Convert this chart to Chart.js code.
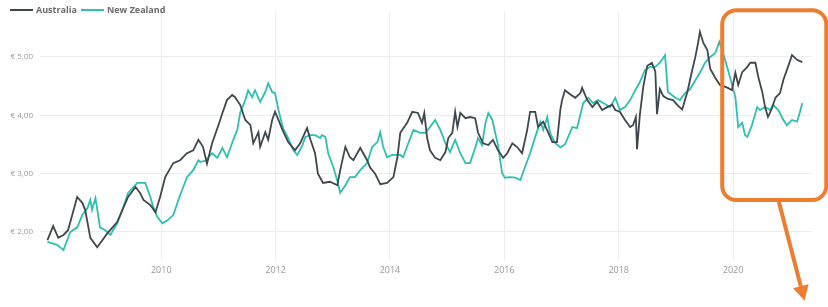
<!DOCTYPE html>
<html>
<head>
<meta charset="utf-8">
<script src="https://cdn.jsdelivr.net/npm/chart.js@4"></script>
<style>
  body { margin: 0; background: #fff; font-family: "Open Sans", sans-serif; }
  #wrap { position: relative; width: 828px; height: 307px; }
  #legend { position: absolute; left: 10px; top: 3px; display: flex; align-items: center; font-size: 9px; font-weight: 700; color: #6b6b6b; }
  #legend .item { display: flex; align-items: center; margin-right: 4px; }
  #legend .swatch { width: 23px; height: 2px; margin-right: 3px; }
</style>
</head>
<body>
<div id="wrap">
  <canvas id="chart" width="828" height="307"></canvas>
  <div id="legend"></div>
</div>
<script>
// Australia
const auYears = [2008.01, 2008.11, 2008.20, 2008.29, 2008.37, 2008.53, 2008.62, 2008.67, 2008.76, 2008.88, 2008.97,
  2009.06, 2009.23, 2009.42, 2009.55, 2009.63, 2009.69, 2009.81, 2009.90, 2009.98,
  2010.07, 2010.21, 2010.33, 2010.45, 2010.56, 2010.65, 2010.73, 2010.80, 2010.89,
  2011.00, 2011.07, 2011.15, 2011.24, 2011.29, 2011.38, 2011.47, 2011.56, 2011.61, 2011.70, 2011.73, 2011.82, 2011.87, 2011.94, 2011.99,
  2012.05, 2012.12, 2012.22, 2012.34, 2012.43, 2012.48, 2012.55, 2012.61, 2012.69, 2012.74, 2012.83, 2012.95,
  2013.08, 2013.13, 2013.22, 2013.30, 2013.36, 2013.48, 2013.60, 2013.65, 2013.74, 2013.83, 2013.95,
  2014.06, 2014.13, 2014.18, 2014.30, 2014.39, 2014.49, 2014.56, 2014.60, 2014.65, 2014.70, 2014.79, 2014.88, 2014.97,
  2015.02, 2015.09, 2015.14, 2015.18, 2015.23, 2015.32, 2015.40, 2015.49, 2015.54, 2015.63, 2015.72, 2015.80, 2015.89, 2015.98,
  2016.05, 2016.14, 2016.22, 2016.31, 2016.40, 2016.45, 2016.54, 2016.59, 2016.68, 2016.77, 2016.84, 2016.92, 2016.98,
  2017.01, 2017.06, 2017.15, 2017.24, 2017.33, 2017.36, 2017.45, 2017.54, 2017.62, 2017.71, 2017.80, 2017.89, 2017.94,
  2018.02, 2018.11, 2018.20, 2018.25, 2018.30, 2018.32, 2018.37, 2018.43, 2018.50, 2018.58, 2018.64, 2018.67, 2018.72, 2018.78, 2018.86, 2018.95,
  2019.04, 2019.11, 2019.20, 2019.28, 2019.34, 2019.39, 2019.42, 2019.48, 2019.55, 2019.60, 2019.69, 2019.77, 2019.91, 2019.98,
  2020.04, 2020.09, 2020.16, 2020.25, 2020.30, 2020.39, 2020.44, 2020.51, 2020.56, 2020.61, 2020.68, 2020.74, 2020.82, 2020.88, 2020.96,
  2021.03, 2021.12, 2021.21];
const auValues = [1.86, 2.10, 1.90, 1.95, 2.03, 2.60, 2.50, 2.38, 1.90, 1.74, 1.86,
  1.98, 2.17, 2.60, 2.77, 2.67, 2.55, 2.46, 2.34, 2.60,
  2.94, 3.18, 3.23, 3.35, 3.40, 3.58, 3.46, 3.17, 3.52,
  3.83, 4.04, 4.26, 4.35, 4.31, 4.18, 3.92, 3.83, 3.52, 3.71, 3.46, 3.71, 3.58, 3.92, 4.06,
  3.92, 3.75, 3.54, 3.40, 3.52, 3.63, 3.78, 3.58, 3.35, 3.00, 2.84, 2.86,
  2.80, 3.06, 3.46, 3.28, 3.23, 3.44, 3.23, 3.11, 3.00, 2.82, 2.84,
  2.94, 3.28, 3.70, 3.87, 4.06, 4.04, 3.87, 4.04, 3.61, 3.40, 3.27, 3.23, 3.37,
  3.61, 3.70, 4.06, 3.80, 4.04, 3.95, 3.97, 3.95, 3.70, 3.52, 3.49, 3.58, 3.40, 3.27,
  3.35, 3.52, 3.46, 3.35, 3.75, 4.06, 4.06, 3.80, 3.89, 3.70, 3.54, 3.54, 4.10,
  4.26, 4.43, 4.36, 4.30, 4.38, 4.47, 4.26, 4.14, 4.23, 4.09, 4.14, 4.18, 4.09,
  4.06, 3.92, 3.80, 3.83, 3.97, 3.42, 4.01, 4.49, 4.85, 4.90, 4.75, 4.02, 4.45, 4.33, 4.28, 4.26,
  4.16, 4.10, 4.40, 4.75, 5.00, 5.25, 5.43, 5.24, 5.12, 4.80, 4.64, 4.52, 4.47, 4.43,
  4.73, 4.52, 4.74, 4.83, 4.90, 4.90, 4.66, 4.40, 4.14, 3.97, 4.12, 4.30, 4.38, 4.61, 4.83,
  5.03, 4.95, 4.91];

// New Zealand
const nzYears = [2008.01, 2008.18, 2008.29, 2008.41, 2008.53, 2008.62, 2008.71, 2008.76, 2008.79, 2008.85, 2008.93,
  2009.02, 2009.11, 2009.23, 2009.32, 2009.42, 2009.58, 2009.72, 2009.81, 2009.86, 2009.93,
  2010.02, 2010.11, 2010.21, 2010.33, 2010.45, 2010.56, 2010.65, 2010.68, 2010.77, 2010.89, 2010.98,
  2011.07, 2011.15, 2011.26, 2011.33, 2011.38, 2011.47, 2011.52, 2011.59, 2011.64, 2011.73, 2011.82, 2011.87, 2011.94, 2011.99,
  2012.05, 2012.13, 2012.22, 2012.31, 2012.38, 2012.47, 2012.52, 2012.61, 2012.69, 2012.78, 2012.81, 2012.87, 2012.92,
  2013.01, 2013.09, 2013.13, 2013.22, 2013.30, 2013.39, 2013.48, 2013.60, 2013.69, 2013.78, 2013.83, 2013.88, 2013.95,
  2014.04, 2014.18, 2014.23, 2014.32, 2014.41, 2014.53, 2014.62, 2014.70, 2014.79, 2014.88, 2014.97,
  2015.05, 2015.14, 2015.23, 2015.32, 2015.40, 2015.49, 2015.54, 2015.61, 2015.67, 2015.72, 2015.79, 2015.84, 2015.89, 2015.96,
  2016.01, 2016.10, 2016.19, 2016.28, 2016.36, 2016.45, 2016.54, 2016.63, 2016.68, 2016.75, 2016.80, 2016.89, 2016.98,
  2017.06, 2017.19, 2017.27, 2017.38, 2017.47, 2017.55, 2017.64, 2017.73, 2017.85, 2017.94,
  2018.02, 2018.11, 2018.20, 2018.29, 2018.37, 2018.46, 2018.55, 2018.64, 2018.72, 2018.81, 2018.86, 2018.99,
  2019.07, 2019.16, 2019.25, 2019.34, 2019.42, 2019.51, 2019.60, 2019.69, 2019.76, 2019.86, 2019.95,
  2020.04, 2020.09, 2020.16, 2020.21, 2020.25, 2020.33, 2020.42, 2020.47, 2020.56, 2020.65, 2020.70, 2020.79, 2020.88, 2020.94,
  2021.03, 2021.12, 2021.17, 2021.21];
const nzValues = [1.83, 1.78, 1.69, 2.00, 2.08, 2.29, 2.41, 2.55, 2.38, 2.58, 2.08,
  2.03, 1.95, 2.15, 2.38, 2.67, 2.84, 2.84, 2.60, 2.43, 2.26,
  2.15, 2.20, 2.29, 2.63, 2.94, 3.06, 3.23, 3.20, 3.22, 3.35, 3.27,
  3.44, 3.28, 3.58, 3.75, 4.04, 4.26, 4.43, 4.31, 4.43, 4.23, 4.40, 4.55, 4.40, 4.38,
  4.09, 3.78, 3.61, 3.40, 3.32, 3.49, 3.63, 3.66, 3.66, 3.61, 3.66, 3.63, 3.35,
  3.11, 2.84, 2.67, 2.80, 2.94, 2.94, 3.06, 3.18, 3.46, 3.54, 3.71, 3.46, 3.28,
  3.32, 3.32, 3.28, 3.52, 3.75, 3.70, 3.70, 3.80, 3.92, 3.75, 3.52,
  3.37, 3.58, 3.35, 3.18, 3.18, 3.44, 3.61, 3.49, 3.87, 4.04, 3.92, 3.70, 3.49, 3.01,
  2.93, 2.94, 2.93, 2.89, 3.11, 3.35, 3.63, 3.89, 3.75, 3.97, 3.70, 3.52, 3.45,
  3.50, 3.80, 3.78, 4.21, 4.30, 4.21, 4.26, 4.21, 4.14, 4.30,
  4.09, 4.14, 4.26, 4.43, 4.57, 4.78, 4.83, 4.83, 4.90, 5.03, 4.40, 4.30,
  4.26, 4.38, 4.45, 4.60, 4.73, 4.90, 5.00, 5.07, 5.26, 4.95, 4.64,
  4.31, 3.80, 3.87, 3.66, 3.63, 3.83, 4.14, 4.09, 4.14, 4.09, 4.18, 4.09, 3.92, 3.83,
  3.92, 3.89, 4.06, 4.21];

const seriesNames = ['Australia', 'New Zealand'];
const seriesColors = ['#3f474c', '#2ebfae'];
const yearTicks = [2010, 2012, 2014, 2016, 2018, 2020];
const euroTicks = [2, 3, 4, 5];

// orange highlight box round the last months, with its arrow (in data units)
const highlightBox = { x0: 2019.81, x1: 2021.63, y0: 5.80, y1: 2.55 };
const highlightArrow = { x0: 2020.80, y0: 2.52, x1: 2021.25, y1: 0.82 };

const toPoints = (xs, ys) => xs.map((x, i) => ({ x, y: ys[i] }));

document.getElementById('legend').innerHTML = seriesNames.map((n, i) =>
  `<div class="item"><span class="swatch" style="background:${seriesColors[i]}"></span>${n}</div>`).join('');

const highlightPlugin = {
  id: 'highlight',
  afterDraw(chart) {
    const { ctx, scales: { x, y } } = chart;
    const bx0 = x.getPixelForValue(highlightBox.x0), bx1 = x.getPixelForValue(highlightBox.x1);
    const by0 = y.getPixelForValue(highlightBox.y0), by1 = y.getPixelForValue(highlightBox.y1);
    ctx.save();
    ctx.strokeStyle = '#ed7d31';
    ctx.fillStyle = '#ed7d31';
    ctx.lineWidth = 4;
    ctx.beginPath();
    ctx.roundRect(bx0, by0, bx1 - bx0, by1 - by0, 14);
    ctx.stroke();

    const ax0 = x.getPixelForValue(highlightArrow.x0), ay0 = y.getPixelForValue(highlightArrow.y0);
    const ax1 = x.getPixelForValue(highlightArrow.x1), ay1 = y.getPixelForValue(highlightArrow.y1);
    const ang = Math.atan2(ay1 - ay0, ax1 - ax0);
    const head = 15, half = 8;
    ctx.beginPath();
    ctx.moveTo(ax0, ay0);
    ctx.lineTo(ax1 - Math.cos(ang) * head * 0.8, ay1 - Math.sin(ang) * head * 0.8);
    ctx.stroke();
    ctx.beginPath();
    ctx.moveTo(ax1, ay1);
    ctx.lineTo(ax1 - Math.cos(ang) * head - Math.sin(ang) * half, ay1 - Math.sin(ang) * head + Math.cos(ang) * half);
    ctx.lineTo(ax1 - Math.cos(ang) * head + Math.sin(ang) * half, ay1 - Math.sin(ang) * head - Math.cos(ang) * half);
    ctx.closePath();
    ctx.fill();
    ctx.restore();
  }
};

new Chart(document.getElementById('chart'), {
  type: 'line',
  data: {
    datasets: [
      { label: seriesNames[0], data: toPoints(auYears, auValues), borderColor: seriesColors[0], borderWidth: 1.8 },
      { label: seriesNames[1], data: toPoints(nzYears, nzValues), borderColor: seriesColors[1], borderWidth: 1.8 },
    ],
  },
  options: {
    responsive: false,
    devicePixelRatio: 1,
    animation: false,
    parsing: false,
    elements: { point: { radius: 0 }, line: { tension: 0 } },
    layout: { padding: { left: 0, right: 16, top: 12, bottom: 0 } },
    plugins: { legend: { display: false }, tooltip: { enabled: false } },
    scales: {
      x: {
        type: 'linear',
        min: 2007.88,
        max: 2021.38,
        afterBuildTicks: (s) => { s.ticks = yearTicks.map((v) => ({ value: v })); },
        afterFit: (s) => { s.height = 47; },
        ticks: { color: '#9a9a9a', font: { family: 'Open Sans', size: 9 }, padding: 5, maxRotation: 0, callback: (v) => String(v) },
        grid: { color: '#ececec', drawTicks: false },
        border: { display: false },
      },
      y: {
        min: 1.52,
        max: 5.77,
        afterBuildTicks: (s) => { s.ticks = euroTicks.map((v) => ({ value: v })); },
        afterFit: (s) => { s.width = 40; },
        ticks: { color: '#9a9a9a', font: { family: 'Open Sans', size: 8 }, padding: 7, callback: (v) => '€ ' + v.toFixed(2).replace('.', ',') },
        grid: { color: '#ececec', drawTicks: false },
        border: { display: false },
      },
    },
  },
  plugins: [highlightPlugin],
});
</script>
</body>
</html>
